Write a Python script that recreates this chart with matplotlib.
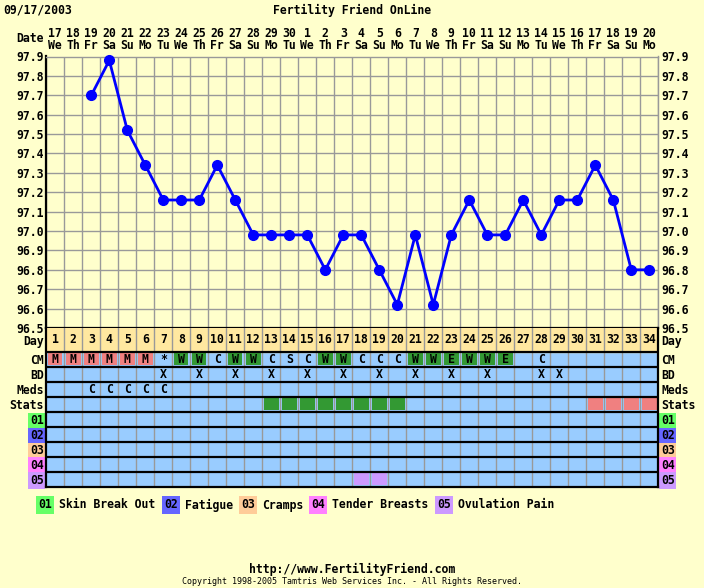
import numpy as np
import matplotlib
matplotlib.use("Agg")
import matplotlib.pyplot as plt
from matplotlib.patches import Rectangle

# ---- data -------------------------------------------------------------
days = list(range(1, 35))
dates = ["17", "18", "19", "20", "21", "22", "23", "24", "25", "26", "27", "28",
         "29", "30", "1", "2", "3", "4", "5", "6", "7", "8", "9", "10", "11",
         "12", "13", "14", "15", "16", "17", "18", "19", "20"]
weekdays = ["We", "Th", "Fr", "Sa", "Su", "Mo", "Tu"] * 5
weekdays = weekdays[:34]
temps = [np.nan, np.nan, 97.70, 97.88, 97.52, 97.34, 97.16, 97.16, 97.16, 97.34,
         97.16, 96.98, 96.98, 96.98, 96.98, 96.80, 96.98, 96.98, 96.80, 96.62,
         96.98, 96.62, 96.98, 97.16, 96.98, 96.98, 97.16, 96.98, 97.16, 97.16,
         97.34, 97.16, 96.80, 96.80]
cm = ["M"] * 6 + ["*", "W", "W", "C", "W", "W", "C", "S", "C", "W", "W", "C",
                  "C", "C", "W", "W", "E", "W", "W", "E", "", "C"] + [""] * 6
bd_days = [7, 9, 11, 13, 15, 17, 19, 21, 23, 25, 28, 29]
meds_days = [3, 4, 5, 6, 7]
stats_green = list(range(13, 21))
stats_red = [31, 32, 33, 34]
ovulation_pain_days = [18, 19]

row_labels = ["Day", "CM", "BD", "Meds", "Stats", "01", "02", "03", "04", "05"]
symptoms = ["Skin Break Out", "Fatigue", "Cramps", "Tender Breasts", "Ovulation Pain"]
symptom_colors = ["#66FF66", "#6666FF", "#FFCC99", "#FF80FF", "#CC99FF"]

# ---- style ------------------------------------------------------------
BG = "#FFFFCC"
GRID = "#999999"
CELL = "#99CCFF"
DAYROW = "#FFE8A0"
GREEN = "#339933"
RED = "#F08080"
FONT = "DejaVu Sans Mono"
FS = 8.3

W, H = 704, 588
fig = plt.figure(figsize=(W / 100, H / 100), dpi=100, facecolor=BG)

left, right = 46.3, 658.3
ptop, pbot, tbot = 56.5, 328, 486.5

def fx(x):
    return x / W

def fy(y):
    return 1 - y / H

# ---- temperature chart -------------------------------------------------
ax = fig.add_axes([fx(left), fy(pbot), fx(right - left), (pbot - ptop) / H])
ax.set_facecolor(BG)
ax.set_xlim(0.5, 34.5)
ax.set_ylim(96.5, 97.9)
ax.set_xticks(np.arange(0.5, 35, 1))
ax.set_xticklabels([])
yt = np.round(np.arange(96.5, 97.95, 0.1), 1)
ax.set_yticks(yt)
ax.set_yticklabels([f"{v:.1f}" for v in yt], fontfamily=FONT, fontweight="bold", fontsize=FS)
ax.tick_params(length=0, pad=2, labelleft=True, labelright=True)
ax.grid(color=GRID, lw=1)
ax.set_axisbelow(True)
for s in ["top", "right"]:
    ax.spines[s].set_color(GRID)
    ax.spines[s].set_linewidth(1)
for s in ["left", "bottom"]:
    ax.spines[s].set_color("black")
    ax.spines[s].set_linewidth(1.6)

ax.plot(days, temps, color="#0000FF", lw=2, marker="o", ms=7, clip_on=False, zorder=5)

for d, dt, wd in zip(days, dates, weekdays):
    ax.annotate(dt, (d, 1), xycoords=("data", "axes fraction"), xytext=(0, 16.9),
                textcoords="offset points", ha="center", va="center",
                fontfamily=FONT, fontweight="bold", fontsize=FS)
    ax.annotate(wd, (d, 1), xycoords=("data", "axes fraction"), xytext=(0, 7.6),
                textcoords="offset points", ha="center", va="center",
                fontfamily=FONT, fontweight="bold", fontsize=FS)

fig.text(fx(43.5), fy(39), "Date", ha="right", va="center",
         fontfamily=FONT, fontweight="bold", fontsize=FS)
fig.text(fx(3), fy(10), "09/17/2003", ha="left", va="center",
         fontfamily=FONT, fontweight="bold", fontsize=FS)
fig.text(fx(352), fy(10), "Fertility Friend OnLine", ha="center", va="center",
         fontfamily=FONT, fontweight="bold", fontsize=FS)

# ---- data table --------------------------------------------------------
tb = fig.add_axes([fx(left), fy(tbot), fx(right - left), (tbot - pbot) / H])
tb.set_facecolor(CELL)
tb.set_xlim(0.5, 34.5)
day_h = 1.6
edges = [0, day_h] + [day_h + i for i in range(1, 10)]
tb.set_ylim(edges[-1], 0)
centers = [(edges[i] + edges[i + 1]) / 2 for i in range(10)]
tb.axhspan(0, day_h, color=DAYROW, zorder=0)
tb.set_xticks([])
tb.set_yticks(centers)
tb.set_yticklabels(row_labels, fontfamily=FONT, fontweight="bold", fontsize=FS)
tb.tick_params(length=0, pad=2, labelleft=True, labelright=True)
for i, tick in enumerate(tb.yaxis.get_major_ticks()):
    if i >= 5:
        for lab in (tick.label1, tick.label2):
            lab.set_bbox(dict(facecolor=symptom_colors[i - 5], edgecolor="none", pad=1.2))
for s in tb.spines.values():
    s.set_color("black")
    s.set_linewidth(1.6)
tb.spines["top"].set_visible(False)

for x in np.arange(1.5, 34.5, 1):
    tb.axvline(x, color=GRID, lw=1, zorder=1)
for e in edges[1:-1]:
    tb.axhline(e, color="black", lw=1.6, zorder=2)

def cell(day, row, color):
    tb.add_patch(Rectangle((day - 0.5 + 0.1, edges[row] + 0.1), 0.8, 0.8,
                           facecolor=color, edgecolor="none", zorder=1.5))

def mark(day, row, s):
    tb.text(day, centers[row], s, ha="center", va="center", fontfamily=FONT,
            fontweight="bold", fontsize=FS, zorder=3)

for d in days:
    mark(d, 0, str(d))
for d, c in zip(days, cm):
    if c == "M":
        cell(d, 1, RED)
    elif c in ("W", "E"):
        cell(d, 1, GREEN)
    if c:
        mark(d, 1, c)
for d in bd_days:
    mark(d, 2, "X")
for d in meds_days:
    mark(d, 3, "C")
for d in stats_green:
    cell(d, 4, GREEN)
for d in stats_red:
    cell(d, 4, RED)
for d in ovulation_pain_days:
    cell(d, 9, symptom_colors[4])

# ---- symptom legend ----------------------------------------------------
leg_x = [37, 163, 240, 310, 436]
for i, (x, name) in enumerate(zip(leg_x, symptoms)):
    fig.text(fx(x + 1), fy(505), f"{i + 1:02d}", ha="left", va="center",
             fontfamily=FONT, fontweight="bold", fontsize=FS,
             bbox=dict(facecolor=symptom_colors[i], edgecolor="none", pad=1.5))
    fig.text(fx(x + 22), fy(505), name, ha="left", va="center",
             fontfamily=FONT, fontweight="bold", fontsize=FS)

fig.text(0.5, fy(569), "http://www.FertilityFriend.com", ha="center", va="center",
         fontfamily=FONT, fontweight="bold", fontsize=FS)
fig.text(0.5, fy(582), "Copyright 1998-2005 Tamtris Web Services Inc. - All Rights Reserved.",
         ha="center", va="center", fontfamily=FONT, fontsize=6)

fig.savefig("out.png", dpi=100, facecolor=BG)
